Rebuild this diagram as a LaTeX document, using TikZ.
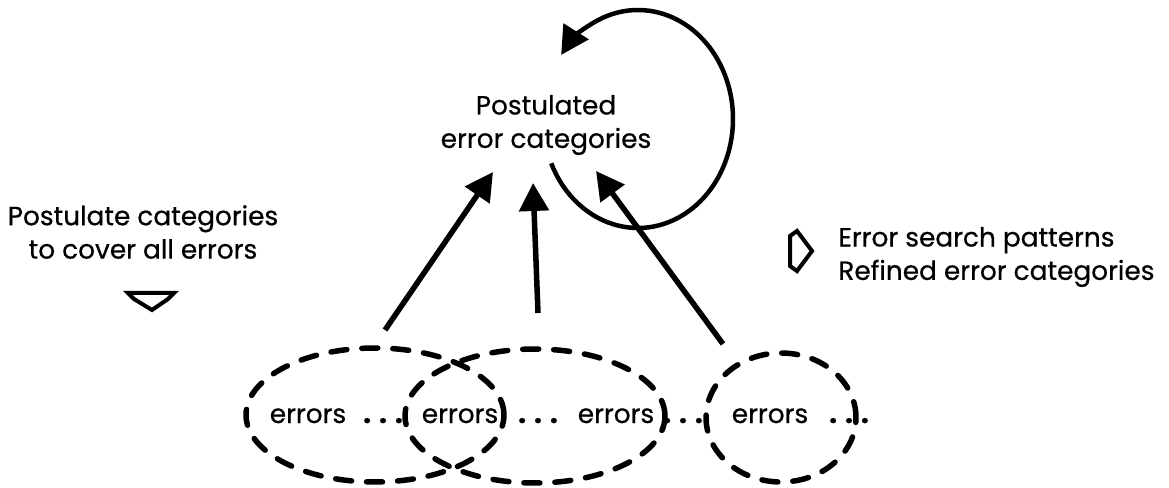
\documentclass[tikz,border=0pt]{standalone}
\usepackage{fontspec}
\setmainfont{Poppins}[FakeBold=0.6]
\usetikzlibrary{arrows.meta,shapes.geometric}
\begin{document}
\begin{tikzpicture}[x=0.02cm,y=0.02cm,
  lbl/.style={inner sep=0pt, font=\fontsize{15}{19}\selectfont},
  dots/.style={inner sep=0pt, font=\fontsize{16}{19}\selectfont\bfseries},
  dell/.style={draw, ellipse, dash pattern=on 0.32cm off 0.3cm, line width=0.11cm, line cap=round, inner sep=0pt},
  bigarrow/.style={line width=0.11cm, -{Triangle[length=0.56cm,width=0.58cm]}},
  looparrow/.style={line width=0.09cm, -{Triangle[length=0.56cm,width=0.58cm]}},
  hollow/.style={draw, line width=0.08cm, line join=miter}]
\useasboundingbox (0,0) rectangle (1169,487);

% texts
\node[lbl, align=center] (pec) at (546,362) {Postulated\\error categories};
\node[lbl, align=center] (pc) at (143,255) {Postulate categories\\to cover all errors};
\node[lbl, align=left, anchor=west] (esp) at (838,230) {Error search patterns\\Refined error categories};

% hollow arrows
\draw[hollow] (128,194) -- (174,194) -- (168,188) -- (152,177) -- (134,188) -- cycle;
\draw[hollow] (790,251) -- (797,256) -- (812,236) -- (797,216) -- (790,221) -- cycle;

% dashed ellipses
\node[dell, minimum width=5.16cm, minimum height=2.68cm] (A) at (375,72) {};
\node[dell, minimum width=5.2cm, minimum height=2.68cm] (D) at (535,71) {};
\node[dell, minimum width=3.0cm, minimum height=2.58cm] (E) at (781,69.5) {};

% bottom row texts
\node[lbl, anchor=base] (e1) at (308,64) {errors};
\node[dots, anchor=base] (d1) at (383,64) {. . .};
\node[lbl, anchor=base] (e2) at (460,64) {errors};
\node[dots, anchor=base] (d2) at (538,64) {. . .};
\node[lbl, anchor=base] (e3) at (616,64) {errors};
\node[dots, anchor=base] (d3) at (683,64) {. . .};
\node[lbl, anchor=base] (e4) at (770,64) {errors};
\node[dots, anchor=base] (d4) at (849,64) {. . .};

% arrows
\coordinate (a1s) at (385,157);
\coordinate (a1e) at (493,315);
\coordinate (a2s) at (538,174);
\coordinate (a2e) at (533,304);
\coordinate (a3s) at (723,143);
\coordinate (a3e) at (596,316);
\draw[bigarrow] (a1s) -- (a1e);
\draw[bigarrow] (a2s) -- (a2e);
\draw[bigarrow] (a3s) -- (a3e);

% loop
\coordinate (loopc) at (638,368);
\draw[looparrow] (loopc) ++(204:1.9cm and 2.18cm) arc[start angle=204, end angle=504, x radius=1.9cm, y radius=2.18cm];
\end{tikzpicture}
\end{document}
